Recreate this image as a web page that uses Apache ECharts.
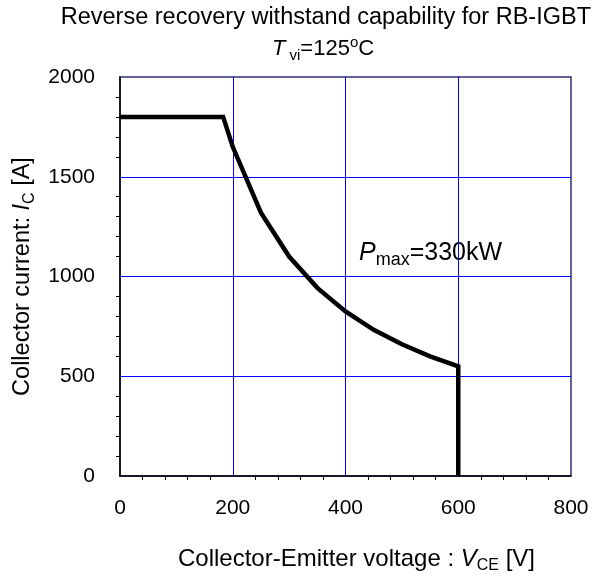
<!DOCTYPE html>
<html>
<head>
<meta charset="utf-8">
<script src="https://cdn.jsdelivr.net/npm/echarts@6/dist/echarts.min.js"></script>
<style>
  html, body { margin: 0; padding: 0; background: #fff; }
  #chart { width: 598px; height: 579px; }
</style>
</head>
<body>
<div id="chart"></div>
<script>
// Safe operating limit: flat current limit, then constant-power hyperbola, then voltage limit
const voltage = [0, 183, 200, 250, 300, 350, 400, 450, 500, 550, 600, 600];
const current = [1800, 1800, 1650, 1320, 1100, 943, 825, 733, 660, 600, 550, 0];
const xTicks = [0, 200, 400, 600, 800];
const yTicks = [0, 500, 1000, 1500, 2000];

const FONT = '"Liberation Sans", Arial, sans-serif';
const chart = echarts.init(document.getElementById('chart'), null, { renderer: 'canvas' });

// rich-text styles for italic symbols with sub/superscripts
function richSet(size, subSize) {
  const base = { fontFamily: FONT, color: '#000', fontWeight: 'normal' };
  return {
    n: Object.assign({}, base, { fontSize: size, lineHeight: size + 6 }),
    i: Object.assign({}, base, { fontSize: size, fontStyle: 'italic', lineHeight: size + 6 }),
    sub: Object.assign({}, base, { fontSize: subSize, verticalAlign: 'bottom', lineHeight: subSize + 1 }),
    sup: Object.assign({}, base, { fontSize: subSize, verticalAlign: 'top', lineHeight: subSize + 1 })
  };
}

chart.setOption({
  animation: false,
  backgroundColor: '#fff',
  title: [
    {
      text: 'Reverse recovery withstand capability for RB-IGBT',
      right: 2, top: 1,
      textStyle: { fontFamily: FONT, fontSize: 23.5, fontWeight: 'normal', color: '#000' }
    },
    {
      text: '{i|T}{sub| vi}{n|=125}{sup|o}{n|C}',
      left: 318, top: 30, textAlign: 'center',
      textStyle: { rich: richSet(22, 15) }
    }
  ],
  grid: {
    left: 120, right: 27, top: 77, bottom: 97,
    show: true, borderColor: '#30307a', borderWidth: 1.5, backgroundColor: 'transparent'
  },
  xAxis: {
    type: 'value', min: xTicks[0], max: xTicks[xTicks.length - 1], interval: 200,
    axisLine: { show: true, lineStyle: { color: '#000', width: 1.5 } },
    axisTick: { show: false },
    minorTick: { show: true, splitNumber: 5, length: 4, lineStyle: { color: '#000', width: 1 } },
    axisLabel: { fontFamily: FONT, fontSize: 21, color: '#000', margin: 22, formatter: v => String(v) },
    splitLine: { show: true, showMinLine: false, showMaxLine: false, lineStyle: { color: '#0000ff', width: 1 } },
    name: '{n|Collector-Emitter voltage : }{i|V}{sub|CE}{n| [V]}',
    nameLocation: 'middle', nameGap: 68,
    nameTextStyle: { fontFamily: FONT, fontSize: 24, color: '#000', padding: [0, 0, 0, 22], rich: richSet(24, 16) }
  },
  yAxis: {
    type: 'value', min: yTicks[0], max: yTicks[yTicks.length - 1], interval: 500,
    axisLine: { show: true, lineStyle: { color: '#000', width: 1.5 } },
    axisTick: { show: false },
    minorTick: { show: true, splitNumber: 5, length: 4, lineStyle: { color: '#000', width: 1 } },
    axisLabel: { fontFamily: FONT, fontSize: 21, color: '#000', margin: 25, formatter: v => String(v) },
    splitLine: { show: true, showMinLine: false, showMaxLine: false, lineStyle: { color: '#0000ff', width: 1 } },
    name: '{n|Collector current: }{i|I}{sub|C}{n| [A]}',
    nameLocation: 'middle', nameGap: 81, nameRotate: 90,
    nameTextStyle: { fontFamily: FONT, fontSize: 23.5, color: '#000', rich: richSet(23.5, 16) }
  },
  series: [{
    type: 'line',
    data: voltage.map((v, k) => [v, current[k]]),
    showSymbol: false,
    lineStyle: { color: '#000', width: 4.5, join: 'miter' },
    z: 5
  }],
  graphic: [{
    type: 'text',
    left: 359, top: 241,
    style: {
      text: '{i|P}{sub|max}{n|=330kW}',
      rich: richSet(25, 18)
    }
  }]
});
</script>
</body>
</html>
